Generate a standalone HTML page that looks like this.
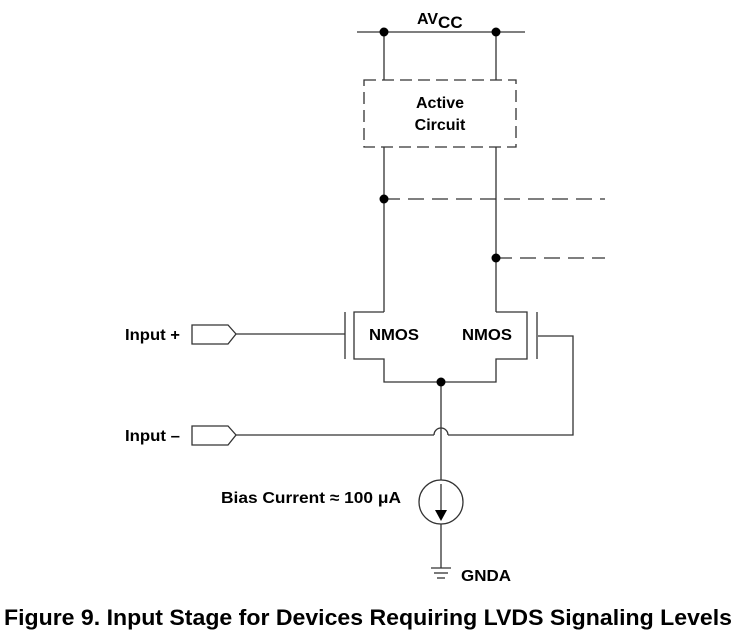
<!DOCTYPE html>
<html><head><meta charset="utf-8"><style>
html,body{margin:0;padding:0;background:#fff;}
svg{display:block;}
text{font-family:"Liberation Sans",Arial,sans-serif;font-weight:bold;fill:#000;}
</style></head><body>
<svg width="736" height="635" viewBox="0 0 736 635" xmlns="http://www.w3.org/2000/svg">
<g stroke="#333" stroke-width="1.3" fill="none">
<line x1="357" y1="32" x2="525" y2="32"/>
<line x1="384" y1="32" x2="384" y2="80"/>
<line x1="496" y1="32" x2="496" y2="80"/>
<rect x="364" y="80" width="152" height="67" stroke-dasharray="12,6"/>
<line x1="384" y1="147" x2="384" y2="312"/>
<line x1="496" y1="147" x2="496" y2="312"/>
<line x1="384" y1="199" x2="605" y2="199" stroke-dasharray="16,8"/>
<line x1="496" y1="258" x2="605" y2="258" stroke-dasharray="16,8"/>
<polyline points="384,312 354,312 354,359 384,359 384,382 496,382 496,359 527,359 527,312 496,312"/>
<line x1="345" y1="312" x2="345" y2="359"/>
<line x1="537" y1="312" x2="537" y2="359"/>
<line x1="236" y1="334" x2="345" y2="334"/>
<polyline points="538,336 573,336 573,435 448,435"/>
<path d="M448,435 A7,7 0 0 0 434,435"/>
<line x1="236" y1="435" x2="434" y2="435"/>
<line x1="441" y1="382" x2="441" y2="480"/>
<circle cx="441" cy="502" r="22"/>
<line x1="441" y1="484" x2="441" y2="512"/>
<line x1="441" y1="524" x2="441" y2="568"/>
<line x1="431" y1="568" x2="451" y2="568"/>
<line x1="434" y1="573" x2="448" y2="573"/>
<line x1="437" y1="578" x2="445" y2="578"/>
<polygon points="192,325 228,325 236,334 228,344 192,344"/>
<polygon points="192,426 228,426 236,435 228,445 192,445"/>
</g>
<polygon points="435,510 447,510 441,521" fill="#000"/>
<g fill="#000">
<circle cx="384" cy="32" r="4.5"/><circle cx="496" cy="32" r="4.5"/>
<circle cx="384" cy="199" r="4.5"/><circle cx="496" cy="258" r="4.5"/>
<circle cx="441" cy="382" r="4.5"/>
</g>
<text x="417" y="24" font-size="16">AV<tspan font-size="17" dy="4">CC</tspan></text>
<text x="440" y="108" font-size="16" text-anchor="middle">Active</text>
<text x="440" y="130" font-size="16" text-anchor="middle">Circuit</text>
<text x="369" y="340" font-size="16" textLength="50" lengthAdjust="spacingAndGlyphs">NMOS</text>
<text x="462" y="340" font-size="16" textLength="50" lengthAdjust="spacingAndGlyphs">NMOS</text>
<text x="125" y="340" font-size="16" textLength="55" lengthAdjust="spacingAndGlyphs">Input +</text>
<text x="125" y="441" font-size="16" textLength="55" lengthAdjust="spacingAndGlyphs">Input –</text>
<text x="221" y="503" font-size="16" textLength="180" lengthAdjust="spacingAndGlyphs">Bias Current ≈ 100 μA</text>
<text x="461" y="581" font-size="16" textLength="50" lengthAdjust="spacingAndGlyphs">GNDA</text>
<text x="4" y="625" font-size="22" textLength="728" lengthAdjust="spacingAndGlyphs">Figure 9.  Input Stage for Devices Requiring LVDS Signaling Levels</text>
</svg>
</body></html>
